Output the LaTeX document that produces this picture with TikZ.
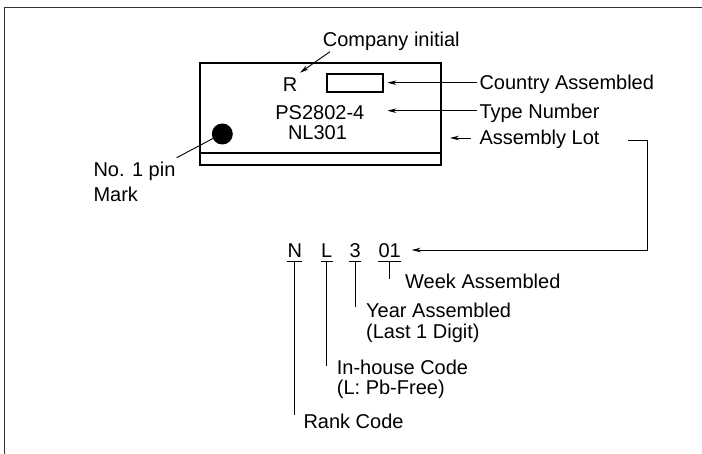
\documentclass[tikz,border=0pt]{standalone}
\usepackage{fontspec}
\setmainfont{Liberation Sans}
\usetikzlibrary{arrows.meta}
\begin{document}
\begin{tikzpicture}[x=1pt,y=-1pt,
  txt/.style={anchor=base west,inner sep=0pt,font=\fontsize{20}{22}\selectfont},
  arr/.style={-{Stealth[length=9pt,width=4.5pt]},line width=0.9pt},
  ln/.style={line width=0.9pt},
  pkg/.style={line width=2pt}]
\useasboundingbox (0,0) rectangle (702,454);
% frame (top and left edges only)
\draw[line width=1.4pt,black!80] (4.5,454) -- (4.5,7.5) -- (702,7.5);
% package
\draw[pkg] (200,63.5) rectangle (441,165.5);
\draw[pkg] (200,152.7) -- (441,152.7);
\node[draw,line width=2pt,minimum width=56pt,minimum height=18pt,inner sep=0pt] (box) at (355,83.2) {};
\fill (222.3,134) circle (10.5pt) coordinate (dot);
% texts inside package
\node[txt] (R) at (282.7,91.7) {R};
\node[txt] (type) at (275.2,119.3) {PS2802-4};
\node[txt] (lot) at (287.8,140) {NL301};
% labels
\node[txt] (comp) at (322.7,46.5) {Company initial};
\node[txt] (ctry) at (479.3,89.3) {Country Assembled};
\node[txt] (tn) at (479.3,118.3) {Type Number};
\node[txt] (al) at (479.3,145) {Assembly Lot};
\node[txt] (pin1) at (93.3,176.7) {No. 1 pin};
\node[txt] (pin2) at (93.3,201.7) {Mark};
% arrows
\coordinate (c1) at (330,51.7);
\coordinate (c2) at (300,72.7);
\draw[arr] (c1) -- (c2);
\coordinate (ct1) at (476.7,82.7);
\coordinate (ct2) at (387.3,82.7);
\draw[arr] (ct1) -- (ct2);
\coordinate (tn1) at (476.7,110.7);
\coordinate (tn2) at (387.3,110.7);
\draw[arr] (tn1) -- (tn2);
\coordinate (al1) at (471,138);
\coordinate (al2) at (450,138);
\draw[arr] (al1) -- (al2);
\coordinate (p1) at (176.7,157.7);
\coordinate (p2) at (213.3,138.3);
\draw[ln] (p1) -- (p2);
% lot code
\node[txt] (cN) at (287.3,257.7) {N};
\node[txt] (cL) at (321,257.7) {L};
\node[txt] (c3) at (349.3,257.7) {3};
\node[txt] (c01) at (378.3,257.7) {01};
\coordinate (b1) at (628.3,140);
\coordinate (b2) at (647.3,140);
\coordinate (b3) at (647.3,250);
\coordinate (b4) at (411.7,250);
\draw[arr] (b1) -- (b2) -- (b3) -- (b4);
\foreach \n in {cN,cL,c3,c01}{
  \draw[ln] ([yshift=-4pt]\n.base west) -- ([yshift=-4pt]\n.base east);
}
\node[txt] (wk) at (405,288.3) {Week Assembled};
\node[txt] (yr1) at (366,317.3) {Year Assembled};
\node[txt] (yr2) at (366,338.3) {(Last 1 Digit)};
\node[txt] (ih1) at (336.7,374.3) {In-house Code};
\node[txt] (ih2) at (336.7,394.3) {(L: Pb-Free)};
\node[txt] (rk) at (303.3,428.3) {Rank Code};
\draw[ln] ([yshift=-4pt]c01.base) -- ++(0,17);
\draw[ln] ([yshift=-4pt]c3.base) -- ++(0,45);
\draw[ln] ([yshift=-4pt]cL.base) -- ++(0,104.3);
\draw[ln] ([yshift=-4pt]cN.base) -- ++(0,153.3);
\end{tikzpicture}
\end{document}
